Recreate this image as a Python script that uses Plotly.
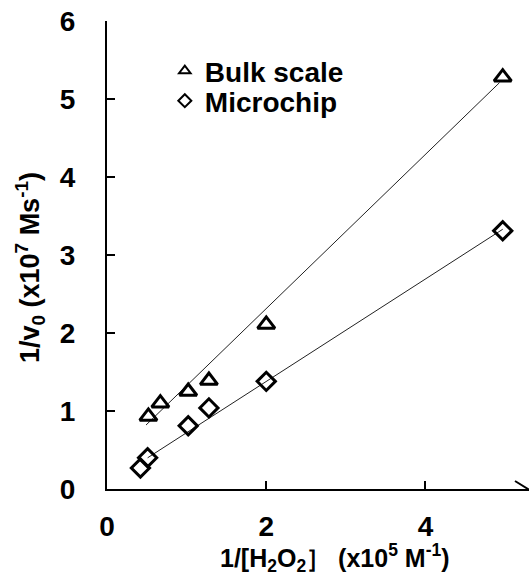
import plotly.graph_objects as go

# Data
bulk_x = [0.52, 0.67, 1.02, 1.28, 2.00, 4.97]
bulk_y = [0.93, 1.10, 1.25, 1.39, 2.11, 5.28]
chip_x = [0.42, 0.51, 1.02, 1.28, 2.00, 4.97]
chip_y = [0.27, 0.40, 0.81, 1.04, 1.38, 3.31]

bulk_fit_x = [0.49, 4.93]
bulk_fit_y = [0.82, 5.21]
chip_fit_x = [0.51, 4.97]
chip_fit_y = [0.40, 3.33]

x_ticks = [0, 2, 4]
y_ticks = [0, 1, 2, 3, 4, 5, 6]
x_range = [0, 5.3]
y_range = [0, 6]

FONT = "Liberation Sans, Arial, sans-serif"

fig = go.Figure()

fig.add_trace(go.Scatter(x=bulk_fit_x, y=bulk_fit_y, mode="lines",
                         line=dict(color="#222", width=1), showlegend=False, hoverinfo="skip"))
fig.add_trace(go.Scatter(x=chip_fit_x, y=chip_fit_y, mode="lines",
                         line=dict(color="#222", width=1), showlegend=False, hoverinfo="skip"))

fig.add_trace(go.Scatter(x=bulk_x, y=bulk_y, mode="markers", name="Bulk scale",
                         marker=dict(symbol="triangle-up-open", size=15, color="black",
                                     line=dict(width=3, color="black")),
                         showlegend=False))
fig.add_trace(go.Scatter(x=chip_x, y=chip_y, mode="markers", name="Microchip",
                         marker=dict(symbol="diamond-open", size=14, color="black",
                                     line=dict(width=3, color="black")),
                         showlegend=False))

# legend entries (smaller symbols, as in the reference legend)
fig.add_trace(go.Scatter(x=[None], y=[None], mode="markers", name="Bulk scale",
                         legend="legend",
                         marker=dict(symbol="triangle-up-open", size=10, color="black",
                                     line=dict(width=2, color="black"))))
fig.add_trace(go.Scatter(x=[None], y=[None], mode="markers", name="Microchip",
                         legend="legend2",
                         marker=dict(symbol="diamond-open", size=10, color="black",
                                     line=dict(width=2, color="black"))))

axis_common = dict(showline=True, linewidth=2, linecolor="black", ticks="inside",
                   ticklen=8, tickwidth=2, tickcolor="black", showgrid=False,
                   zeroline=False, mirror=False,
                   tickfont=dict(family=FONT, size=28, color="black", weight="bold"))

legend_common = dict(xanchor="left", yanchor="middle",
                     font=dict(family=FONT, size=28, color="black", weight="bold"),
                     bgcolor="rgba(0,0,0,0)", borderwidth=0)

fig.update_layout(
    width=529, height=575,
    margin=dict(l=107, r=0, t=21, b=86),
    paper_bgcolor="white", plot_bgcolor="white",
    xaxis=dict(range=x_range, tickvals=x_ticks, ticklabelstandoff=11, **axis_common),
    yaxis=dict(range=y_range, tickvals=y_ticks, ticklabelstandoff=24, **axis_common),
    legend=dict(x=0.137, y=(489 - 71) / 468, **legend_common),
    legend2=dict(x=0.137, y=(489 - 101) / 468, **legend_common),
    showlegend=True,
)

# x-axis arrow head
fig.add_shape(type="path", xref="x", yref="y", xsizemode="pixel", ysizemode="pixel",
              xanchor=x_range[1], yanchor=0,
              path="M -14,-8 L -1,0 L -14,8", line=dict(color="black", width=2))

# axis titles
fig.add_annotation(xref="paper", yref="paper", x=(335 - 107) / 422, y=(489 - 558) / 468,
                   xanchor="center", yanchor="middle", showarrow=False,
                   text="1/[H<sub>2</sub>O<sub>2</sub>］ (x10<sup>5</sup> M<sup>-1</sup>)",
                   font=dict(family=FONT, size=25, color="black", weight="bold"))
fig.add_annotation(xref="paper", yref="paper", x=(30 - 107) / 422, y=(489 - 268) / 468,
                   xanchor="center", yanchor="middle", showarrow=False, textangle=-90,
                   text="1/v<sub>0</sub> (x10<sup>7</sup> Ms<sup>-1</sup>)",
                   font=dict(family=FONT, size=27, color="black", weight="bold"))

fig.write_html("out.html", config={"displayModeBar": False},
               post_script="document.body.style.margin='0';")
